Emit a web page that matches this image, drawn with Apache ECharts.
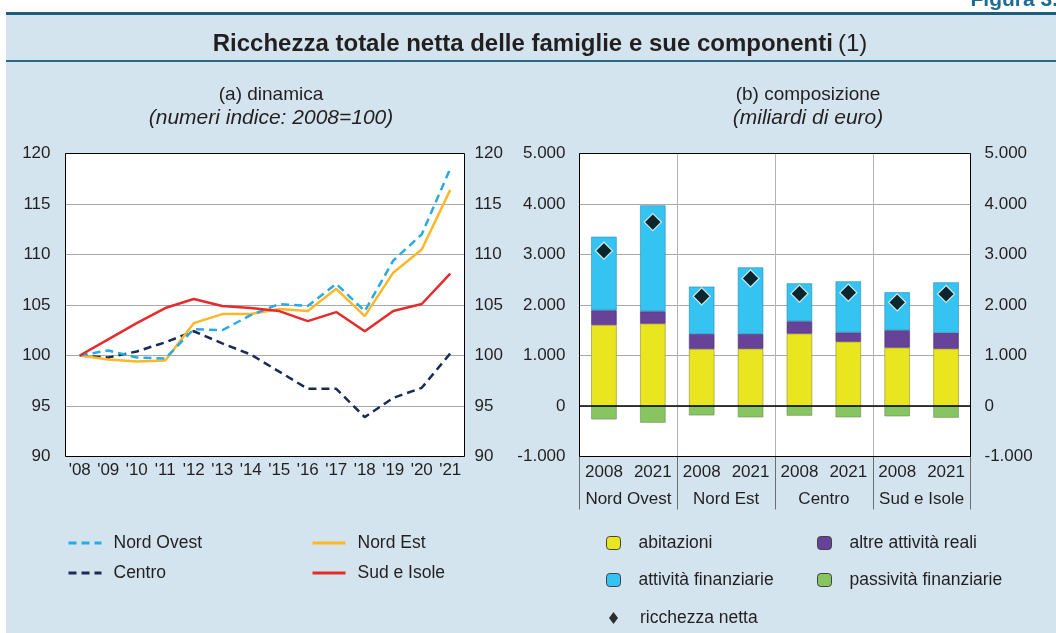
<!DOCTYPE html>
<html>
<head>
<meta charset="utf-8">
<script src="https://cdn.jsdelivr.net/npm/echarts@6/dist/echarts.min.js"></script>
<style>
  html, body { margin: 0; padding: 0; background: #fff; }
  #chart { width: 1056px; height: 633px; }
</style>
</head>
<body>
<div id="chart"></div>
<script>
// (a) dinamica - numeri indice 2008=100
const years = ["'08", "'09", "'10", "'11", "'12", "'13", "'14", "'15", "'16", "'17", "'18", "'19", "'20", "'21"];
const nordOvest = [100, 100.5, 99.8, 99.7, 102.6, 102.5, 104.0, 105.1, 104.9, 107.1, 104.4, 109.4, 112.0, 118.5];
const nordEst = [100, 99.6, 99.4, 99.5, 103.2, 104.1, 104.1, 104.6, 104.4, 106.6, 103.9, 108.2, 110.5, 116.4];
const centro = [100, 99.8, 100.4, 101.3, 102.4, 101.2, 100.1, 98.4, 96.7, 96.7, 93.9, 95.8, 96.8, 100.2];
const sudIsole = [100, 101.6, 103.2, 104.7, 105.6, 104.9, 104.7, 104.4, 103.4, 104.3, 102.4, 104.4, 105.1, 108.1];

// (b) composizione - miliardi di euro
const barYears = ['2008', '2021', '2008', '2021', '2008', '2021', '2008', '2021'];
const areas = ['Nord Ovest', 'Nord Est', 'Centro', 'Sud e Isole'];
const abitazioni = [1605, 1631, 1130, 1134, 1433, 1273, 1156, 1134];
const altreReali = [290, 244, 297, 293, 244, 184, 343, 316];
const finanziarie = [1457, 2097, 936, 1318, 752, 1011, 752, 998];
const passivita = [-264, -330, -185, -224, -191, -224, -204, -231];
const netta = [3075, 3642, 2171, 2527, 2224, 2244, 2053, 2218];

const FONT = 'Liberation Sans, Arial, sans-serif';
const TXT = '#231f20';
const BG = '#d3e4ee';
const FS = 17;

const fmtThousands = v => {
    const s = String(Math.abs(v)).replace(/\B(?=(\d{3})+(?!\d))/g, '.');
    return (v < 0 ? '-' : '') + s;
};

const chart = echarts.init(document.getElementById('chart'));

const lineBase = { type: 'line', xAxisIndex: 0, yAxisIndex: 0, symbol: 'none', smooth: false };
const barBase = { type: 'bar', xAxisIndex: 1, yAxisIndex: 2, stack: 'tot', barWidth: '52%' };
const lineLegend = {
    orient: 'vertical', top: 534, padding: 0, itemGap: 12, itemWidth: 33, itemHeight: 12,
    itemStyle: { opacity: 0 },
    lineStyle: { width: 3 },
    textStyle: { color: TXT, fontSize: 17.5, padding: [0, 0, 0, 7] }
};
const boxLegend = {
    orient: 'vertical', top: 534, padding: 0, itemGap: 19, itemWidth: 14, itemHeight: 13,
    itemStyle: { borderColor: '#444', borderWidth: 1 },
    textStyle: { color: TXT, fontSize: 17.5, padding: [0, 0, 0, 13] }
};

chart.setOption({
    animation: false,
    textStyle: { fontFamily: FONT },
    graphic: [
        { type: 'rect', shape: { x: 6, y: 13, width: 1050, height: 620 }, style: { fill: BG }, z: -10 },
        { type: 'rect', shape: { x: 6, y: 12, width: 1050, height: 3 }, style: { fill: '#1f5d7c' }, z: -9 },
        { type: 'rect', shape: { x: 6, y: 60, width: 1050, height: 2 }, style: { fill: '#2b6886' }, z: -9 },
        {
            type: 'text', z: 10,
            style: { x: 1058, y: 11, align: 'right', verticalAlign: 'bottom', text: 'Figura 3.', font: 'bold 21px ' + FONT, fill: '#1d6a94' }
        },
        { type: 'rect', z: 100, shape: { x: 65.5, y: 153.5, width: 399, height: 303 }, style: { fill: null, stroke: '#000', lineWidth: 1 } },
        { type: 'rect', z: 100, shape: { x: 579.5, y: 153.5, width: 391, height: 303 }, style: { fill: null, stroke: '#000', lineWidth: 1 } }
    ],
    title: [
        {
            text: '{b|Ricchezza totale netta delle famiglie e sue componenti} {n|(1)}',
            left: 535, top: 27, textAlign: 'center',
            textStyle: {
                rich: {
                    b: { fontFamily: FONT, fontSize: 24, fontWeight: 'bold', color: TXT },
                    n: { fontFamily: FONT, fontSize: 24, fontWeight: 'normal', color: TXT }
                }
            }
        },
        {
            text: '(a) dinamica', left: 266, top: 80, textAlign: 'center',
            textStyle: { fontFamily: FONT, fontSize: 19, fontWeight: 'normal', color: TXT },
            subtext: '(numeri indice: 2008=100)', itemGap: 4,
            subtextStyle: { fontFamily: FONT, fontSize: 21, fontStyle: 'italic', color: TXT }
        },
        {
            text: '(b) composizione', left: 803, top: 80, textAlign: 'center',
            textStyle: { fontFamily: FONT, fontSize: 19, fontWeight: 'normal', color: TXT },
            subtext: '(miliardi di euro)', itemGap: 4,
            subtextStyle: { fontFamily: FONT, fontSize: 21, fontStyle: 'italic', color: TXT }
        }
    ],
    grid: [
        { left: 65.5, top: 153.5, width: 399, height: 303, show: true, backgroundColor: '#fff', borderWidth: 0 },
        { left: 579.5, top: 153.5, width: 391, height: 303, show: true, backgroundColor: '#fff', borderWidth: 0 }
    ],
    xAxis: [
        {
            type: 'category', gridIndex: 0, data: years, boundaryGap: true,
            axisLine: { show: false }, axisTick: { show: false },
            axisLabel: { color: TXT, fontSize: FS, margin: 5, interval: 0 }
        },
        {
            type: 'category', gridIndex: 1, data: barYears, boundaryGap: true,
            axisLine: { show: false, onZero: false }, axisTick: { show: false },
            axisLabel: { color: TXT, fontSize: FS, margin: 7, interval: 0 }
        },
        {
            type: 'category', gridIndex: 1, data: areas, boundaryGap: true, position: 'bottom', offset: 27,
            axisLine: { show: false, onZero: false }, axisTick: { show: false },
            axisLabel: { color: TXT, fontSize: FS, margin: 7, interval: 0 }
        },
        {
            // separatori tra le aree
            type: 'category', gridIndex: 1, data: areas, boundaryGap: true, position: 'bottom',
            axisLine: { show: false, onZero: false },
            axisTick: { show: true, interval: 0, length: 53, lineStyle: { color: '#6e6e6e' } },
            splitLine: { show: true, interval: 0, lineStyle: { color: '#b4b4b4' } },
            axisLabel: { show: false }
        }
    ],
    yAxis: [
        {
            type: 'value', gridIndex: 0, min: 90, max: 120, interval: 5,
            axisLine: { show: false }, axisTick: { show: false },
            splitLine: { lineStyle: { color: '#a8a8a8' } },
            axisLabel: { color: TXT, fontSize: FS, margin: 15 }
        },
        {
            type: 'value', gridIndex: 0, min: 90, max: 120, interval: 5, position: 'right',
            axisLine: { show: false }, axisTick: { show: false }, splitLine: { show: false },
            axisLabel: { color: TXT, fontSize: FS, margin: 10 }
        },
        {
            type: 'value', gridIndex: 1, min: -1000, max: 5000, interval: 1000,
            axisLine: { show: false }, axisTick: { show: false },
            splitLine: { lineStyle: { color: '#a8a8a8' } },
            axisLabel: { color: TXT, fontSize: FS, margin: 14, formatter: fmtThousands }
        },
        {
            type: 'value', gridIndex: 1, min: -1000, max: 5000, interval: 1000, position: 'right',
            axisLine: { show: false }, axisTick: { show: false }, splitLine: { show: false },
            axisLabel: { color: TXT, fontSize: FS, margin: 14, formatter: fmtThousands }
        }
    ],
    legend: [
        Object.assign({}, lineLegend, { left: 67, data: ['Nord Ovest', 'Centro'] }),
        Object.assign({}, lineLegend, { left: 311, data: ['Nord Est', 'Sud e Isole'] }),
        Object.assign({}, boxLegend, { left: 606, data: ['abitazioni', 'attività finanziarie'] }),
        Object.assign({}, boxLegend, { left: 817, data: ['altre attività reali', 'passività finanziarie'] }),
        {
            orient: 'vertical', left: 609, top: 609, padding: 0, itemWidth: 9, itemHeight: 12,
            data: ['ricchezza netta'],
            itemStyle: { borderWidth: 0 },
            textStyle: { color: TXT, fontSize: 17.5, padding: [0, 0, 0, 17] }
        }
    ],
    series: [
        Object.assign({}, lineBase, { name: 'Centro', data: centro, lineStyle: { color: '#1b2a56', width: 2.5, type: [8, 5] }, itemStyle: { color: '#1b2a56' } }),
        Object.assign({}, lineBase, { name: 'Nord Est', data: nordEst, lineStyle: { color: '#fbb829', width: 2.5 }, itemStyle: { color: '#fbb829' } }),
        Object.assign({}, lineBase, { name: 'Nord Ovest', data: nordOvest, lineStyle: { color: '#29abe2', width: 2.5, type: [8, 5] }, itemStyle: { color: '#29abe2' } }),
        Object.assign({}, lineBase, { name: 'Sud e Isole', data: sudIsole, lineStyle: { color: '#e62b2c', width: 2.5 }, itemStyle: { color: '#e62b2c' } }),
        Object.assign({}, barBase, {
            name: 'abitazioni', data: abitazioni,
            itemStyle: { color: '#e9e51f', borderColor: '#8c8a3a', borderWidth: 0.6 },
            markLine: {
                silent: true, symbol: 'none', label: { show: false },
                lineStyle: { color: '#000', width: 1.5, type: 'solid' },
                data: [{ yAxis: 0 }]
            }
        }),
        Object.assign({}, barBase, { name: 'altre attività reali', data: altreReali, itemStyle: { color: '#664298', borderColor: '#4a3070', borderWidth: 0.6 } }),
        Object.assign({}, barBase, { name: 'attività finanziarie', data: finanziarie, itemStyle: { color: '#35c4f1', borderColor: '#2a8ab0', borderWidth: 0.6 } }),
        Object.assign({}, barBase, { name: 'passività finanziarie', data: passivita, itemStyle: { color: '#86c55f', borderColor: '#6f8a5a', borderWidth: 0.6 } }),
        {
            name: 'ricchezza netta', type: 'scatter', xAxisIndex: 1, yAxisIndex: 2, data: netta,
            symbol: 'diamond', symbolSize: [17, 17], z: 5,
            itemStyle: { color: '#000', borderColor: '#fff', borderWidth: 1.2 }
        }
    ]
});
</script>
</body>
</html>
